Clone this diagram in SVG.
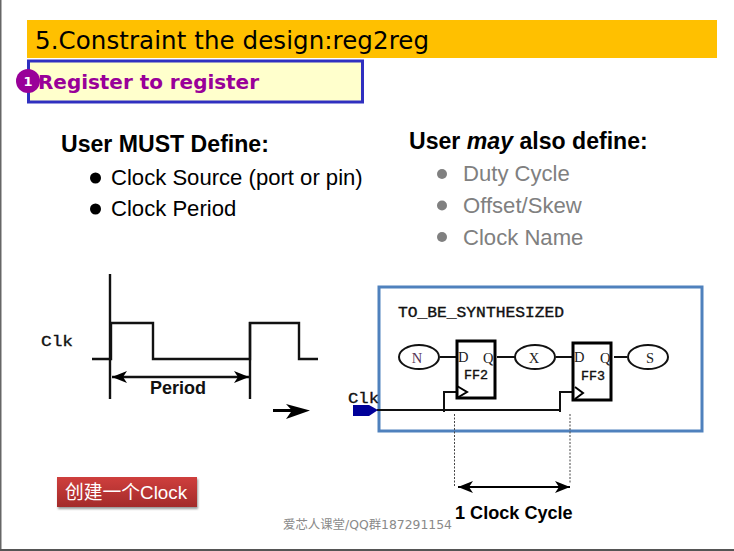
<svg xmlns="http://www.w3.org/2000/svg" width="734" height="551" viewBox="0 0 734 551">
<style>
.a{font-family:"Liberation Sans",Arial,sans-serif}
.v{font-family:"DejaVu Sans",Verdana,sans-serif}
.m{font-family:"Liberation Mono","Courier New",monospace;fill:#111;stroke:#111;stroke-width:.35}
.s{font-family:"Liberation Serif",serif;fill:#222;font-size:14.500px}
.l{fill:none;stroke:#111;stroke-width:2.400}
.w{fill:none;stroke:#111;stroke-width:2}
.t{font-size:22.100px;fill:#000}
.g{font-size:22.100px;fill:#808080}
.h{font-size:23.100px;font-weight:bold;fill:#000}
.e{fill:#fff;stroke:#111;stroke-width:2}
.ff{fill:#fff;stroke:#000;stroke-width:3}
.d{fill:none;stroke:#444;stroke-width:1;stroke-dasharray:2 1.5}
</style>
<defs>
<linearGradient id="rg" x1="0" y1="0" x2="0" y2="1"><stop offset="0" stop-color="#cf3f3d"/><stop offset="1" stop-color="#a32b2a"/></linearGradient>
<filter id="sh" x="-10%" y="-20%" width="120%" height="150%"><feGaussianBlur stdDeviation="1.300"/></filter>
<marker id="ah" markerWidth="16" markerHeight="12" refX="15" refY="6" orient="auto-start-reverse" markerUnits="userSpaceOnUse"><path d="M0 0L15 6L0 12L4 6Z" fill="#000"/></marker>
</defs>
<rect width="734" height="551" fill="#fff"/>
<rect x="0" y="0" width="1.500" height="551" fill="#666"/>
<rect x="0" y="549" width="734" height="2" fill="#555"/>

<g id="title">
<rect x="27" y="20" width="690" height="38" fill="#ffc000"/>
<text class="v" x="35" y="49" font-size="24.500" fill="#000" textLength="394">5.Constraint the design:reg2reg</text>
</g>
<g id="subtitle">
<rect x="28.500" y="61" width="334" height="41" fill="#ffffcc" stroke="#3030c0" stroke-width="3"/>
<circle cx="28" cy="81" r="12" fill="#990099"/>
<text class="v" x="28" y="86" font-size="13" font-weight="bold" fill="#fff" text-anchor="middle">1</text>
<text class="v" x="38" y="89" font-size="20" font-weight="bold" fill="#990099" textLength="221">Register to register</text>
</g>

<g id="must-define">
<text class="a h" x="61" y="152">User MUST Define:</text>
<circle cx="95.500" cy="178" r="5.500" fill="#000"/>
<text class="a t" x="111" y="185">Clock Source (port or pin)</text>
<circle cx="95.500" cy="209" r="5.500" fill="#000"/>
<text class="a t" x="111" y="216">Clock Period</text>
</g>
<g id="may-define">
<text class="a h" x="409" y="149">User <tspan font-style="italic">may</tspan> also define:</text>
<circle cx="442" cy="174" r="5" fill="#808080"/>
<text class="a g" x="463" y="181">Duty Cycle</text>
<circle cx="442" cy="205.500" r="5" fill="#808080"/>
<text class="a g" x="463" y="213">Offset/Skew</text>
<circle cx="442" cy="237" r="5" fill="#808080"/>
<text class="a g" x="463" y="245">Clock Name</text>
</g>

<g id="waveform">
<text class="m" x="41" y="346" font-size="15" textLength="32" lengthAdjust="spacingAndGlyphs">Clk</text>
<path class="l" d="M110 274V399M250 322V399"/>
<path class="l" d="M92 359H111V323H153V359H250V323H299V359H318"/>
<path class="l" d="M112 377H249" stroke-width="1.800" marker-start="url(#ah)" marker-end="url(#ah)"/>
<text class="a" x="150" y="394" font-size="18" font-weight="bold" fill="#111">Period</text>
<path d="M273 410.500H292" stroke="#000" stroke-width="3"/>
<path d="M286 404L310 410.500L286 419L292 410.500Z" fill="#000"/>
</g>

<g id="design-box">
<rect x="379" y="287" width="323" height="144" fill="#fff" stroke="#4f81bd" stroke-width="3"/>
<text class="m" x="398" y="317" font-size="14" textLength="166" lengthAdjust="spacingAndGlyphs">TO_BE_SYNTHESIZED</text>
</g>
<g id="connectors">
<path class="w" d="M440 357H457M497 357H515M556 357H573M614 357H627"/>
<path class="w" d="M377 410H560M444 412V392H457M560 412V392H574"/>
<path class="d" d="M454.500 414V486M570 414V484"/>
<path d="M458 487H570" stroke="#000" stroke-width="2" fill="none" marker-start="url(#ah)" marker-end="url(#ah)"/>
</g>
<g id="node-n"><ellipse cx="419" cy="357" rx="20" ry="12" class="e"/><text class="s" x="417" y="363" text-anchor="middle" style="fill:#535">N</text></g>
<g id="node-ff2">
<rect x="457" y="341" width="38" height="57" class="ff"/>
<path d="M457 386L467 392L457 398" fill="none" stroke="#000" stroke-width="2"/>
<text class="s" x="458" y="362">D</text><text class="s" x="483" y="363">Q</text>
<text class="m" x="476" y="379" font-size="12.500" text-anchor="middle" textLength="24" lengthAdjust="spacingAndGlyphs">FF2</text>
</g>
<g id="node-x"><ellipse cx="535" cy="357" rx="20" ry="12" class="e"/><text class="s" x="534" y="363" text-anchor="middle">X</text></g>
<g id="node-ff3">
<rect x="573" y="343" width="38" height="57" class="ff"/>
<path d="M575 387L583 393L575 399" fill="none" stroke="#000" stroke-width="2"/>
<text class="s" x="574" y="362">D</text><text class="s" x="600" y="363">Q</text>
<text class="m" x="593" y="380" font-size="12.500" text-anchor="middle" textLength="24" lengthAdjust="spacingAndGlyphs">FF3</text>
</g>
<g id="node-s"><ellipse cx="648" cy="357" rx="20" ry="12" class="e"/><text class="s" x="650" y="363" text-anchor="middle">S</text></g>
<g id="clk-port">
<text class="m" x="348" y="403" font-size="15" textLength="31" lengthAdjust="spacingAndGlyphs">Clk</text>
<path d="M353 405H369L378 410L369 416H353Z" fill="#000099"/>
</g>

<g id="cycle-label"><text class="a" x="455" y="519" font-size="18.100" font-weight="bold" fill="#000">1 Clock Cycle</text></g>
<g id="button">
<rect x="58" y="479" width="140" height="30" fill="#555" opacity=".6" filter="url(#sh)"/>
<rect x="57" y="477" width="140" height="30" fill="url(#rg)"/>
<text x="65" y="499" font-size="18.800" fill="#fff" font-family="'Liberation Sans','Noto Sans CJK SC',sans-serif">创建一个Clock</text>
</g>
<g id="watermark"><text x="283" y="529" font-size="12.400" fill="#8a8a8a" font-family="'DejaVu Sans','Noto Sans CJK SC',sans-serif">爱芯人课堂/QQ群187291154</text></g>
</svg>
